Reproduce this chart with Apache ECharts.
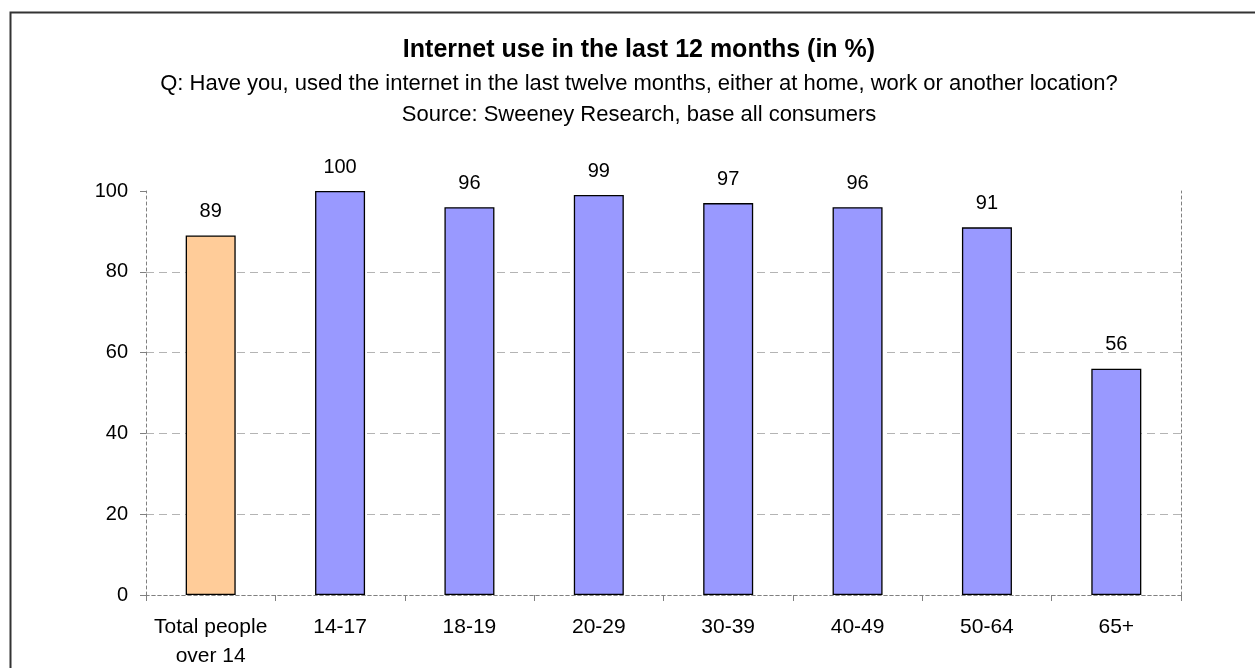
<!DOCTYPE html>
<html>
<head>
<meta charset="utf-8">
<script src="https://cdn.jsdelivr.net/npm/echarts@6/dist/echarts.min.js"></script>
<style>
html,body{margin:0;padding:0;background:#fff;}
#chart{width:1255px;height:668px;}
</style>
</head>
<body>
<div id="chart"></div>
<script>
const categories = ['Total people\nover 14', '14-17', '18-19', '20-29', '30-39', '40-49', '50-64', '65+'];
const values = [89, 100, 96, 99, 97, 96, 91, 56];
const barColors = ['#FFCC99', '#9999FF', '#9999FF', '#9999FF', '#9999FF', '#9999FF', '#9999FF', '#9999FF'];
const titleText = 'Internet use in the last 12 months (in %)';
const subtitleText = 'Q: Have you, used the internet in the last twelve months, either at home, work or another location?\nSource: Sweeney Research, base all consumers';

const FONT = '"Liberation Sans", Arial, sans-serif';
const chart = echarts.init(document.getElementById('chart'), null, {renderer: 'canvas'});
const option = {
  backgroundColor: '#ffffff',
  animation: false,
  textStyle: {fontFamily: FONT},
  title: [{
    text: titleText,
    left: 639,
    textAlign: 'center',
    top: 38,
    padding: 0,
    textStyle: {fontFamily: FONT, fontSize: 25, fontWeight: 'bold', color: '#000'}
  }, {
    text: subtitleText,
    left: 639,
    textAlign: 'center',
    top: 68,
    padding: 0,
    textStyle: {fontFamily: FONT, fontSize: 22, fontWeight: 'normal', color: '#000', lineHeight: 31, align: 'center'}
  }],
  graphic: [{
    type: 'rect',
    left: 8, top: 10,
    shape: {width: 1300, height: 720},
    style: {fill: 'none', stroke: '#333', lineWidth: 2}
  }],
  grid: {left: 146, right: 74, top: 191, bottom: 73, containLabel: false, outerBoundsMode: 'none'},
  xAxis: [{
    type: 'category',
    data: categories,
    position: 'bottom',
    axisLine: {lineStyle: {color: '#808080', type: [3, 3], width: 1}},
    axisTick: {show: true, length: 6, lineStyle: {color: '#808080', type: 'solid'}},
    axisLabel: {color: '#000', fontSize: 21, fontFamily: FONT, lineHeight: 29, margin: 18, interval: 0}
  }, {
    type: 'category',
    data: categories,
    position: 'top',
    axisLine: {lineStyle: {color: '#808080', type: [3, 3], width: 1}},
    axisTick: {show: false},
    axisLabel: {show: false}
  }],
  yAxis: [{
    type: 'value',
    min: 0, max: 100, interval: 20,
    position: 'left',
    axisLine: {show: true, lineStyle: {color: '#808080', type: [3, 3], width: 1}},
    axisTick: {show: true, length: 6, lineStyle: {color: '#808080', type: 'solid'}},
    axisLabel: {color: '#000', fontSize: 20, fontFamily: FONT, margin: 18},
    splitLine: {show: true, lineStyle: {color: ['rgba(0,0,0,0)', '#b4b4b4', '#b4b4b4', '#b4b4b4', '#b4b4b4', 'rgba(0,0,0,0)'], type: [8, 5], width: 1}}
  }, {
    type: 'value',
    min: 0, max: 100, interval: 20,
    position: 'right',
    axisLine: {show: true, lineStyle: {color: '#808080', type: [3, 3], width: 1}},
    axisTick: {show: false},
    axisLabel: {show: false},
    splitLine: {show: false}
  }],
  series: [{
    type: 'bar',
    data: values.map((v, i) => ({value: v, itemStyle: {color: barColors[i]}})),
    barWidth: 50,
    itemStyle: {borderColor: '#000', borderWidth: 1.3},
    label: {show: true, position: 'top', distance: 14, color: '#000', fontSize: 20, fontFamily: FONT},
    z: 3
  }]
};
chart.setOption(option);
</script>
</body>
</html>
